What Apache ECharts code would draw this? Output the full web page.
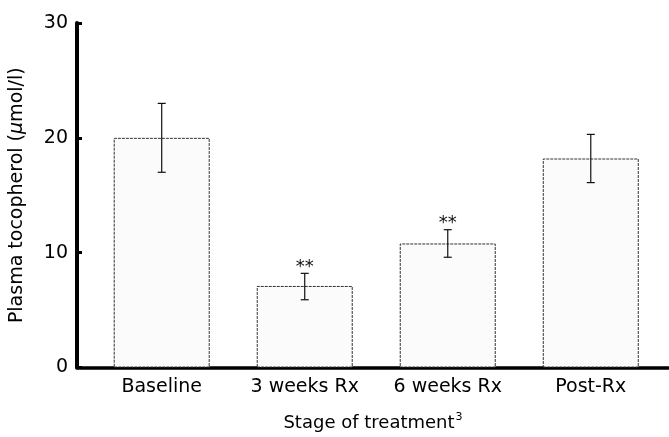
<!DOCTYPE html>
<html><head><meta charset="utf-8">
<script src="https://cdn.jsdelivr.net/npm/echarts@6/dist/echarts.min.js"></script>
<style>html,body{margin:0;padding:0;background:#fff}#c{width:669px;height:437px}</style>
</head><body><div id="c"></div>
<script>
const categories = ['Baseline', '3 weeks Rx', '6 weeks Rx', 'Post-Rx'];
const means = [20.0, 7.1, 10.8, 18.2];
const errLow = [17.0, 5.9, 9.6, 16.1];
const errHigh = [23.0, 8.2, 12.0, 20.3];
const sig = ['', '**', '**', ''];
const yMin = 0, yMax = 30, yStep = 10;

const FONT = 'DejaVu Sans';
const chart = echarts.init(document.getElementById('c'));
const barData = means.map((v, i) => [i, v]);
const errData = means.map((v, i) => [i, errLow[i], errHigh[i], sig[i]]);

chart.setOption({
  animation: false,
  backgroundColor: '#fff',
  grid: { left: 75, right: 0, top: 23, bottom: 62, containLabel: false },
  xAxis: {
    type: 'value', min: -0.5923, max: 3.547,
    splitLine: { show: false },
    axisLine: { show: true, onZero: false, lineStyle: { color: '#000', width: 3.5 } },
    axisTick: { show: false },
    axisLabel: {
      customValues: [0, 1, 2, 3],
      formatter: v => categories[Math.round(v)] || '',
      color: '#000', fontFamily: FONT, fontSize: 19, margin: 10
    },
    name: '{m|Stage of treatment}{s|3}',
    nameLocation: 'middle', nameGap: 44,
    nameTextStyle: {
      rich: {
        m: { fontFamily: FONT, fontSize: 18, color: '#000' },
        s: { fontFamily: FONT, fontSize: 11, color: '#000', verticalAlign: 'top', padding: [0, 0, 12, 1] }
      }
    }
  },
  yAxis: {
    type: 'value', min: yMin, max: yMax, interval: yStep,
    splitLine: { show: false },
    axisLine: { show: true, onZero: false, lineStyle: { color: '#000', width: 4 } },
    axisTick: { show: true, inside: true, length: 5, lineStyle: { color: '#000', width: 3 } },
    axisLabel: { color: '#000', fontFamily: FONT, fontSize: 19, margin: 9 },
    name: '{m|Plasma tocopherol (}{i|μ}{m|mol/l)}',
    nameLocation: 'middle', nameGap: 50, nameRotate: 90,
    nameTextStyle: {
      rich: {
        m: { fontFamily: FONT, fontSize: 19, color: '#000' },
        i: { fontFamily: FONT, fontSize: 19, color: '#000', fontStyle: 'italic' }
      }
    }
  },
  series: [
    {
      type: 'bar', data: barData, barWidth: 96,
      itemStyle: { color: '#fbfbfb', borderColor: '#333', borderWidth: 1, borderType: [3, 1] },
      z: 2
    },
    {
      type: 'custom', data: errData, z: 5,
      renderItem: (params, api) => {
        const x = api.value(0);
        const lo = api.coord([x, api.value(1)]);
        const hi = api.coord([x, api.value(2)]);
        const s = api.value(3);
        const w = 4;
        const st = { stroke: '#111', lineWidth: 1.2 };
        const children = [
          { type: 'line', shape: { x1: lo[0], y1: lo[1], x2: hi[0], y2: hi[1] }, style: st },
          { type: 'line', shape: { x1: hi[0] - w, y1: hi[1], x2: hi[0] + w, y2: hi[1] }, style: st },
          { type: 'line', shape: { x1: lo[0] - w, y1: lo[1], x2: lo[0] + w, y2: lo[1] }, style: st }
        ];
        if (s && s !== '-' && String(s).length) {
          children.push({ type: 'text', style: { text: String(s), x: hi[0], y: hi[1] + 3,
            align: 'center', verticalAlign: 'bottom', fontFamily: FONT, fontSize: 18, fill: '#111' } });
        }
        return { type: 'group', children };
      }
    }
  ]
});
</script></body></html>
